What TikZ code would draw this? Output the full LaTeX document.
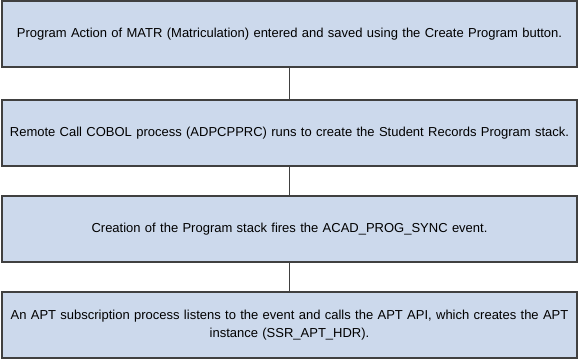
\documentclass[tikz,border=0pt]{standalone}
\usepackage{fontspec}
\setmainfont{Liberation Sans}
\definecolor{boxfill}{HTML}{CCD9EC}
\definecolor{boxline}{HTML}{404040}
\begin{document}
\begin{tikzpicture}[x=1pt,y=1pt,
  stepbox/.style={draw=boxline, fill=boxfill, line width=1.3pt, minimum width=575pt, minimum height=66pt, inner sep=0pt, text width=574pt, align=center, font=\fontsize{13}{18}\selectfont},
  link/.style={draw=boxline, line width=1.3pt}]
\useasboundingbox (0,0) rectangle (579,-360);
\node[stepbox] (a) at (289.5,-34) {Program Action of MATR (Matriculation) entered and saved using the Create Program button.};
\node[stepbox] (b) at (289.5,-133) {Remote Call COBOL process (ADPCPPRC) runs to create the Student Records Program stack.};
\node[stepbox] (c) at (289.5,-229) {Creation of the Program stack fires the ACAD\_PROG\_SYNC event.};
\node[stepbox] (d) at (289.5,-325) {An APT subscription process listens to the event and calls the APT API, which creates the APT\\instance (SSR\_APT\_HDR).};
\draw[link] (a.south) -- (b.north);
\draw[link] (b.south) -- (c.north);
\draw[link] (c.south) -- (d.north);
\end{tikzpicture}
\end{document}
